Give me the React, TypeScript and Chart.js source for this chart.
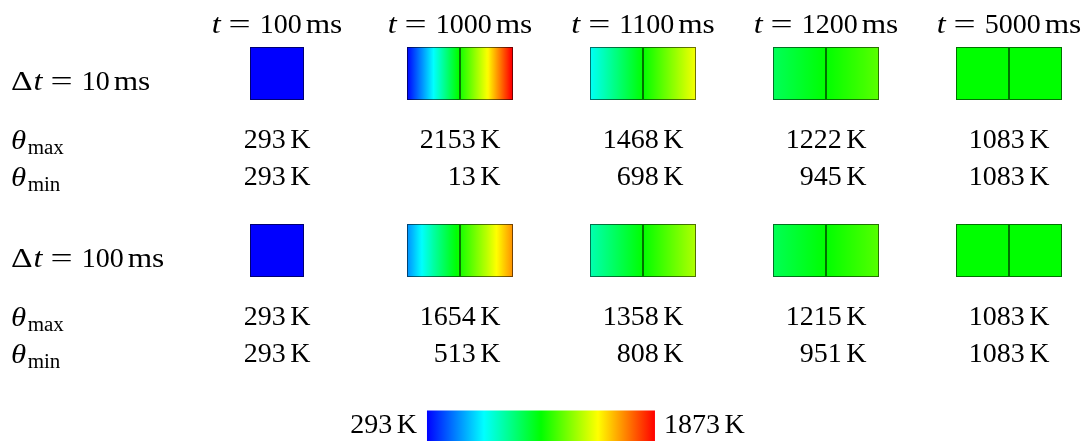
import React, { useEffect, useRef } from 'react';
import { Chart, registerables } from 'chart.js';

Chart.register(...registerables);

// ---------- data ----------
const times = ['100', '1000', '1100', '1200', '5000'];
const stepLabels = ['10', '100'];
const thetaMax10 = [293, 2153, 1468, 1222, 1083];
const thetaMin10 = [293, 13, 698, 945, 1083];
const thetaMax100 = [293, 1654, 1358, 1215, 1083];
const thetaMin100 = [293, 513, 808, 951, 1083];
// temperature across each cell, read at 0, 1/4, 1/2, 3/4 and 1 of its width (K)
const profile10 = [
  [293, 293, 293, 293, 293],
  [293, 688, 1110, 1460, 1900],
  [698, 890, 1083, 1275, 1468],
  [945, 1014, 1083, 1152, 1222],
  [1083, 1083, 1083, 1083, 1083],
];
const profile100 = [
  [293, 293, 293, 293, 293],
  [513, 830, 1115, 1370, 1654],
  [808, 945, 1083, 1220, 1358],
  [951, 1017, 1083, 1149, 1215],
  [1083, 1083, 1083, 1083, 1083],
];
const elementsPerCell = [1, 2, 2, 2, 2];
const colorRange = [293, 1873];

// ---------- layout & style ----------
const W = 1088;
const H = 441;
const COL_PX = 183; // pixels per column
const COL0_PX = 277; // centre of the first column
const COL_RANGE = [-COL0_PX / COL_PX, (W - COL0_PX) / COL_PX]; // x scale in column units
const CELL_W_PX = [54, 106, 106, 106, 106]; // drawn width of each column's cell
const TEMP_RANGE = [-2666, 4874]; // x scale for the colour bar, in K
const BLOCK_OFFSET = [0, 177];
const Y = { header: 33, cells: 73.5, label: 90, maxRow: 148, minRow: 185, bar: 426, barText: 433 };
const CELL_H = 53;
const BAR_H = 31;
const KNOTS = [
  [0, 0, 255],
  [0, 255, 255],
  [0, 255, 0],
  [255, 255, 0],
  [255, 0, 0],
];
const SERIF = '"Liberation Serif", "Times New Roman", serif';
const FS = 28;
const SUB_FS = 20;
const BORDER_DARK = 0.45;

function cmap(T: number): number[] {
  const s = Math.min(1, Math.max(0, (T - colorRange[0]) / (colorRange[1] - colorRange[0])));
  const seg = s * (KNOTS.length - 1);
  const i = Math.min(KNOTS.length - 2, Math.floor(seg));
  const t = seg - i;
  return KNOTS[i].map((v, k) => v + (KNOTS[i + 1][k] - v) * t);
}
function rgb(c: number[], k = 1) {
  return `rgb(${Math.round(c[0] * k)},${Math.round(c[1] * k)},${Math.round(c[2] * k)})`;
}
function profileAt(p: number[], f: number) {
  const seg = f * (p.length - 1);
  const i = Math.min(p.length - 2, Math.floor(seg));
  const t = seg - i;
  return p[i] + (p[i + 1] - p[i]) * t;
}

function cellGradient(c: any, dark: number) {
  const chart = c.chart;
  const raw = c.raw;
  if (!raw || !raw.profile) return rgb(KNOTS[2], dark);
  const xs = chart.scales.x;
  const px0 = xs.getPixelForValue(raw.x[0]);
  const px1 = xs.getPixelForValue(raw.x[1]);
  if (!isFinite(px0) || !isFinite(px1) || px1 === px0) return rgb(cmap(raw.profile[0]), dark);
  const g = chart.ctx.createLinearGradient(px0, 0, px1, 0);
  const N = 32;
  for (let k = 0; k <= N; k++) {
    const f = raw.f0 + ((raw.f1 - raw.f0) * k) / N;
    g.addColorStop(k / N, rgb(cmap(profileAt(raw.profile, f)), dark));
  }
  return g;
}

function barGradient(c: any) {
  const chart = c.chart;
  const xs = chart.scales.xT;
  const px0 = xs.getPixelForValue(colorRange[0]);
  const px1 = xs.getPixelForValue(colorRange[1]);
  if (!isFinite(px0) || !isFinite(px1)) return rgb(KNOTS[2]);
  const g = chart.ctx.createLinearGradient(px0, 0, px1, 0);
  KNOTS.forEach((k, i) => g.addColorStop(i / (KNOTS.length - 1), rgb(k)));
  return g;
}

type Run = { t?: string; it?: boolean; sz?: number; dy?: number; gap?: number; sx?: number };

function runsWidth(ctx: CanvasRenderingContext2D, runs: Run[]) {
  let w = 0;
  for (const r of runs) {
    if (r.gap !== undefined) {
      w += r.gap;
      continue;
    }
    ctx.font = `${r.it ? 'italic ' : ''}${r.sz || FS}px ${SERIF}`;
    w += ctx.measureText(r.t || '').width * (r.sx || 1);
  }
  return w;
}

function drawRuns(ctx: CanvasRenderingContext2D, runs: Run[], x: number, y: number, align: string) {
  const w = runsWidth(ctx, runs);
  let cx = align === 'center' ? x - w / 2 : align === 'right' ? x - w : x;
  ctx.textBaseline = 'alphabetic';
  ctx.textAlign = 'left';
  ctx.fillStyle = '#000';
  for (const r of runs) {
    if (r.gap !== undefined) {
      cx += r.gap;
      continue;
    }
    ctx.font = `${r.it ? 'italic ' : ''}${r.sz || FS}px ${SERIF}`;
    const sx = r.sx || 1;
    ctx.save();
    ctx.translate(cx, y + (r.dy || 0));
    ctx.scale(sx, 1);
    ctx.fillText(r.t || '', 0, 0);
    ctx.restore();
    cx += ctx.measureText(r.t || '').width * sx;
  }
}

const unitRuns = (num: string, unit: string): Run[] => [{ t: num }, { gap: 4.5 }, { t: unit }];
const eqRuns = (num: string): Run[] => [
  { gap: 8 },
  { t: '=', sx: 1.4 },
  { gap: 9 },
  { t: num },
  { gap: 4 },
  { t: 'ms', sx: 1.12 },
];
const thetaRuns = (sub: string): Run[] => [{ t: 'θ', it: true, sx: 1.1 }, { gap: 1.5 }, { t: sub, sz: SUB_FS, dy: 5, sx: 1.05 }];

const textPlugin = {
  id: 'tableText',
  afterDraw(chart: any) {
    const ctx: CanvasRenderingContext2D = chart.ctx;
    const xs = chart.scales.x;
    const ys = chart.scales.y;
    const xT = chart.scales.xT;
    const left = chart.chartArea.left + 11;
    ctx.save();
    // column headers
    times.forEach((t, c) => {
      drawRuns(ctx, [{ t: 't', it: true, sx: 1.15 }, ...eqRuns(t)], xs.getPixelForValue(c), ys.getPixelForValue(Y.header), 'center');
    });
    const blocks = [
      [thetaMax10, thetaMin10],
      [thetaMax100, thetaMin100],
    ];
    // right edge of each value column: widest entry centred on the column
    const colRight = times.map((_, c) => {
      let mw = 0;
      blocks.forEach((bl) => bl.forEach((arr) => (mw = Math.max(mw, runsWidth(ctx, unitRuns(String(arr[c]), 'K'))))));
      return xs.getPixelForValue(c) + mw / 2;
    });
    stepLabels.forEach((s, b) => {
      const off = BLOCK_OFFSET[b];
      drawRuns(
        ctx,
        [{ t: 'Δ', sx: 1.2 }, { gap: 1 }, { t: 't', it: true, sx: 1.15 }, ...eqRuns(s)],
        left,
        ys.getPixelForValue(Y.label + off),
        'left'
      );
      drawRuns(ctx, thetaRuns('max'), left, ys.getPixelForValue(Y.maxRow + off + 1), 'left');
      drawRuns(ctx, thetaRuns('min'), left, ys.getPixelForValue(Y.minRow + off + 1), 'left');
      const [mx, mn] = blocks[b];
      times.forEach((_, c) => {
        drawRuns(ctx, unitRuns(String(mx[c]), 'K'), colRight[c], ys.getPixelForValue(Y.maxRow + off), 'right');
        drawRuns(ctx, unitRuns(String(mn[c]), 'K'), colRight[c], ys.getPixelForValue(Y.minRow + off), 'right');
      });
    });
    // colour bar labels
    drawRuns(ctx, unitRuns(String(colorRange[0]), 'K'), xT.getPixelForValue(colorRange[0]) - 10, ys.getPixelForValue(Y.barText), 'right');
    drawRuns(ctx, unitRuns(String(colorRange[1]), 'K'), xT.getPixelForValue(colorRange[1]) + 9, ys.getPixelForValue(Y.barText), 'left');
    ctx.restore();
  },
};

export default function App() {
  const ref = useRef<HTMLCanvasElement | null>(null);
  useEffect(() => {
    if (!ref.current) return;
    const cellData: any[] = [];
    [profile10, profile100].forEach((prof, b) => {
      prof.forEach((p, c) => {
        const n = elementsPerCell[c];
        const ew = CELL_W_PX[c] / COL_PX / n;
        for (let e = 0; e < n; e++) {
          const x0 = c - (n * ew) / 2 + e * ew;
          cellData.push({ x: [x0, x0 + ew], y: Y.cells + BLOCK_OFFSET[b], profile: p, f0: e / n, f1: (e + 1) / n });
        }
      });
    });
    const chart = new Chart(ref.current, {
      type: 'bar',
      data: {
        datasets: [
          {
            data: cellData,
            xAxisID: 'x',
            yAxisID: 'y',
            barThickness: CELL_H,
            borderWidth: 1,
            borderSkipped: false,
            inflateAmount: 0,
            backgroundColor: (c: any) => cellGradient(c, 1),
            borderColor: (c: any) => cellGradient(c, BORDER_DARK),
          } as any,
          {
            data: [{ x: colorRange.slice(), y: Y.bar }],
            xAxisID: 'xT',
            yAxisID: 'y',
            barThickness: BAR_H,
            borderWidth: 0,
            borderSkipped: false,
            inflateAmount: 0,
            backgroundColor: (c: any) => barGradient(c),
          } as any,
        ],
      },
      options: {
        indexAxis: 'y',
        animation: false,
        responsive: false,
        devicePixelRatio: 1,
        events: [],
        layout: { padding: 0 },
        datasets: { bar: { grouped: false } } as any,
        scales: {
          x: { type: 'linear', display: false, min: COL_RANGE[0], max: COL_RANGE[1] },
          xT: { type: 'linear', axis: 'x', display: false, min: TEMP_RANGE[0], max: TEMP_RANGE[1] } as any,
          y: { type: 'linear', display: false, min: 0, max: H, reverse: true, offset: false },
        },
        plugins: { legend: { display: false }, tooltip: { enabled: false } },
      },
      plugins: [textPlugin],
    });
    return () => chart.destroy();
  }, []);
  return (
    <div style={{ position: 'absolute', left: 0, top: 0, width: W, height: H }}>
      <canvas ref={ref} width={W} height={H} style={{ display: 'block', width: W, height: H }} />
    </div>
  );
}
